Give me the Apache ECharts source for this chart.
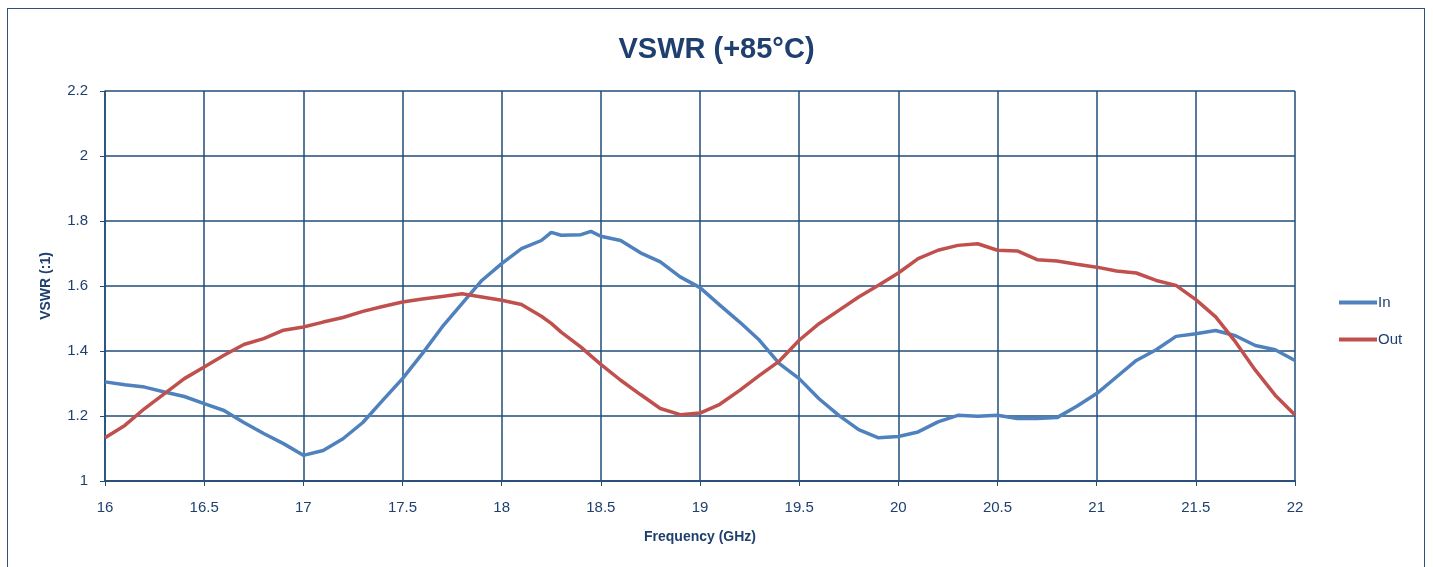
<!DOCTYPE html>
<html>
<head>
<meta charset="utf-8">
<script src="https://cdn.jsdelivr.net/npm/echarts@6/dist/echarts.min.js"></script>
<style>
html,body{margin:0;padding:0;background:#fff;}
#frame{position:absolute;left:7px;top:8px;width:1418px;height:570px;border:1.5px solid #2c4f7c;box-sizing:border-box;}
#chart{position:absolute;left:0;top:0;width:1433px;height:567px;}
</style>
</head>
<body>
<div id="frame"></div>
<div id="chart"></div>
<script>
const freq = [16.0,16.1,16.2,16.3,16.4,16.5,16.6,16.7,16.8,16.9,
  17.0,17.1,17.2,17.3,17.4,17.5,17.6,17.7,17.8,17.9,
  18.0,18.1,18.2,18.25,18.3,18.4,18.45,18.5,18.6,18.7,18.8,18.9,
  19.0,19.1,19.2,19.3,19.4,19.5,19.6,19.7,19.8,19.9,
  20.0,20.1,20.2,20.3,20.4,20.5,20.6,20.7,20.8,20.9,
  21.0,21.1,21.2,21.3,21.4,21.5,21.6,21.7,21.8,21.9,22.0];
const inVals = [1.305,1.296,1.289,1.274,1.26,1.238,1.217,1.18,1.146,1.115,
  1.079,1.094,1.13,1.18,1.248,1.315,1.392,1.474,1.546,1.617,
  1.669,1.715,1.74,1.765,1.756,1.758,1.768,1.753,1.74,1.702,1.674,1.628,
  1.595,1.541,1.489,1.433,1.361,1.315,1.253,1.202,1.158,1.133,
  1.137,1.151,1.182,1.202,1.199,1.202,1.192,1.192,1.195,1.23,
  1.269,1.32,1.371,1.404,1.445,1.453,1.463,1.447,1.417,1.404,1.371];
const outVals = [1.133,1.171,1.223,1.269,1.315,1.351,1.387,1.42,1.438,1.464,
  1.474,1.489,1.503,1.522,1.537,1.551,1.56,1.568,1.576,1.566,
  1.556,1.543,1.507,1.485,1.458,1.412,1.385,1.359,1.31,1.266,1.223,1.204,
  1.209,1.236,1.279,1.325,1.369,1.433,1.484,1.525,1.566,1.602,
  1.64,1.684,1.71,1.725,1.73,1.71,1.708,1.681,1.677,1.667,
  1.658,1.646,1.64,1.617,1.602,1.558,1.505,1.428,1.341,1.264,1.203];
const seriesNames = ['In','Out'];
const xTicks = ['16','16.5','17','17.5','18','18.5','19','19.5','20','20.5','21','21.5','22'];
const yTicks = ['1','1.2','1.4','1.6','1.8','2','2.2'];

const txt = '#1f3f6e';
const gridCol = '#1f4e79';
const font = "'Liberation Sans Narrow','Liberation Sans',Arial,sans-serif";
const chart = echarts.init(document.getElementById('chart'));
chart.setOption({
  animation:false,
  textStyle:{fontFamily:font},
  title:{text:'VSWR (+85°C)',left:'center',top:30,
    textStyle:{fontSize:29,fontWeight:'bold',color:txt,fontFamily:font}},
  grid:{left:105,right:138,top:91,bottom:86,containLabel:false},
  legend:{orient:'vertical',left:1334,top:290,itemWidth:38,itemHeight:4,itemGap:22,icon:'rect',
    textStyle:{fontSize:15,color:txt,padding:[0,0,0,-4]},data:seriesNames},
  xAxis:{type:'value',min:16,max:22,interval:0.5,
    name:'Frequency (GHz)',nameLocation:'middle',nameGap:49,
    nameTextStyle:{fontSize:14,fontWeight:'bold',color:txt},
    axisLine:{lineStyle:{color:'#2c4f7c',width:2}},
    axisTick:{show:true,length:5,lineStyle:{color:gridCol}},
    axisLabel:{fontSize:15,color:txt,margin:19,formatter:v=>xTicks[Math.round((v-16)/0.5)]},
    splitLine:{show:true,lineStyle:{color:gridCol,width:1.5}}},
  yAxis:{type:'value',min:1,max:2.2,interval:0.2,
    name:'VSWR (:1)',nameLocation:'middle',nameGap:52,nameRotate:90,
    nameTextStyle:{fontSize:14,fontWeight:'bold',color:txt},
    axisLine:{show:true,lineStyle:{color:gridCol,width:1.5}},
    axisTick:{show:true,length:5,lineStyle:{color:gridCol}},
    axisLabel:{fontSize:15,color:txt,margin:17,formatter:v=>yTicks[Math.round((v-1)/0.2)]},
    splitLine:{show:true,lineStyle:{color:gridCol,width:1.5}}},
  series:[
    {name:'In',type:'line',symbol:'none',smooth:false,
      lineStyle:{color:'#4f81bd',width:3.5},itemStyle:{color:'#4f81bd'},
      data:freq.map((f,i)=>[f,inVals[i]])},
    {name:'Out',type:'line',symbol:'none',smooth:false,
      lineStyle:{color:'#c0504d',width:3.5},itemStyle:{color:'#c0504d'},
      data:freq.map((f,i)=>[f,outVals[i]])}
  ]
});
</script>
</body>
</html>
